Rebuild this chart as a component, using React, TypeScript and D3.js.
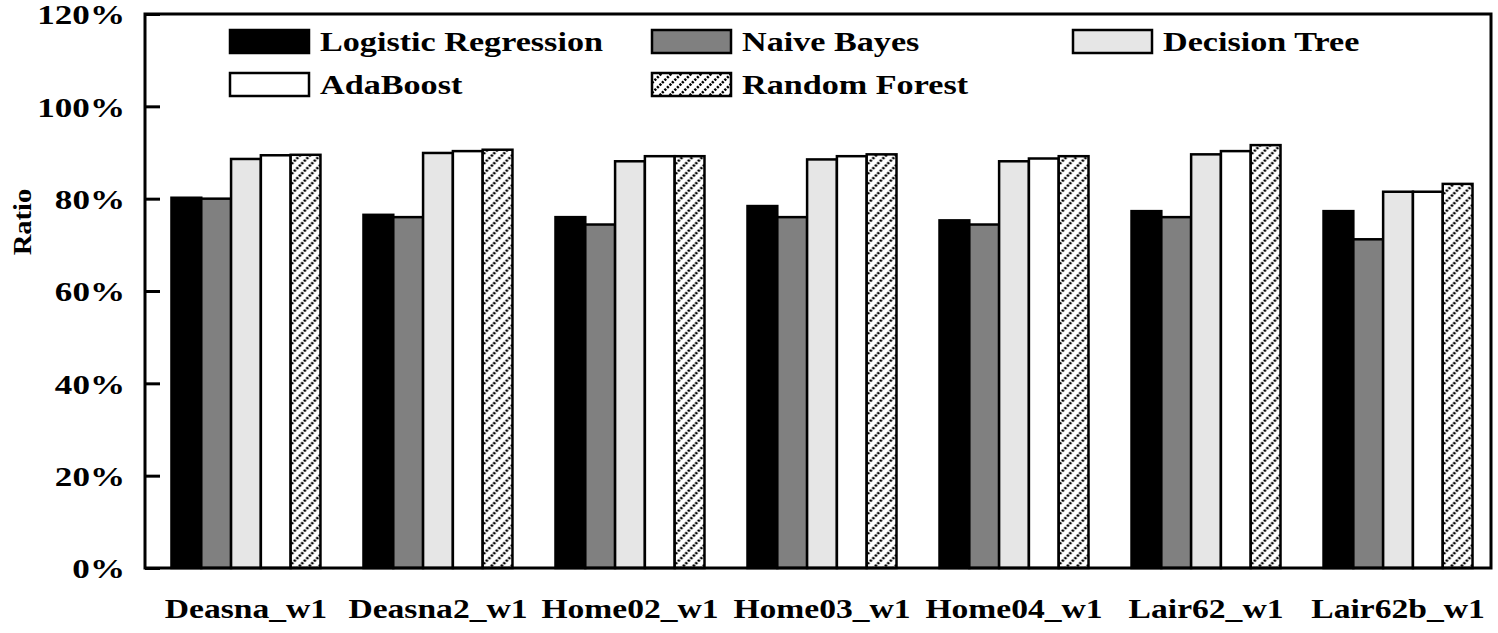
import { useRef, useEffect } from 'react';
import * as d3 from 'd3';

const categories = ['Deasna_w1', 'Deasna2_w1', 'Home02_w1', 'Home03_w1', 'Home04_w1', 'Lair62_w1', 'Lair62b_w1'];
const seriesNames = ['Logistic Regression', 'Naive Bayes', 'Decision Tree', 'AdaBoost', 'Random Forest'];

const logisticRegression = [80.2, 76.5, 76.0, 78.4, 75.3, 77.3, 77.3];
const naiveBayes = [80.0, 76.0, 74.4, 76.0, 74.4, 76.0, 71.2];
const decisionTree = [88.6, 89.9, 88.1, 88.5, 88.1, 89.6, 81.5];
const adaBoost = [89.4, 90.3, 89.2, 89.2, 88.7, 90.3, 81.5];
const randomForest = [89.5, 90.6, 89.2, 89.6, 89.2, 91.6, 83.2];

const yTicks = [0, 20, 40, 60, 80, 100, 120];

const FILLS = ['#000000', '#808080', '#e6e6e6', '#ffffff', 'url(#hatch)'];

const WIDTH = 1498;
const HEIGHT = 633;
const MARGIN = { top: 14, right: 7, bottom: 65, left: 145 };
const FONT = '"Liberation Serif", "Times New Roman", serif';

// the source's type is set wider than Liberation Serif: scale glyphs horizontally
function stretchText(sel: d3.Selection<any, any, any, any>, factor: number) {
  sel.each(function () {
    const el = this as SVGTextElement;
    const x = +(el.getAttribute('x') || 0);
    const y = +(el.getAttribute('y') || 0);
    const prev = el.getAttribute('transform') || '';
    el.setAttribute('x', '0');
    el.setAttribute('y', '0');
    el.setAttribute('transform', `${prev} translate(${x},${y}) scale(${factor},1)`);
  });
}

export default function App() {
  const svgRef = useRef<SVGSVGElement>(null);

  useEffect(() => {
    if (!svgRef.current) return;
    const svg = d3.select(svgRef.current);
    svg.selectAll('*').remove();

    const innerW = WIDTH - MARGIN.left - MARGIN.right;
    const innerH = HEIGHT - MARGIN.top - MARGIN.bottom;

    // hatch pattern for Random Forest
    const defs = svg.append('defs');
    const pat = defs
      .append('pattern')
      .attr('id', 'hatch')
      .attr('patternUnits', 'userSpaceOnUse')
      .attr('width', 10)
      .attr('height', 10);
    pat.append('rect').attr('width', 10).attr('height', 10).attr('fill', '#fff');
    pat
      .append('path')
      .attr('d', 'M-2.5,2.5 L2.5,-2.5 M0,10 L10,0 M7.5,12.5 L12.5,7.5')
      .attr('stroke', '#000')
      .attr('stroke-width', 2.6)
      .attr('stroke-dasharray', '2.2,1.4');

    const g = svg.append('g').attr('transform', `translate(${MARGIN.left},${MARGIN.top})`);

    const values = [logisticRegression, naiveBayes, decisionTree, adaBoost, randomForest];

    const x0 = d3
      .scaleBand<string>()
      .domain(categories)
      .range([4, innerW + 4])
      .paddingInner(0.224)
      .paddingOuter(0.117);
    const x1 = d3.scaleBand<number>().domain(d3.range(seriesNames.length)).range([0, x0.bandwidth()]);
    const y = d3.scaleLinear().domain([0, 120]).range([innerH, 0]);

    // ── Bars ──────────────────────────────────────────────────────────────
    categories.forEach((cat, ci) => {
      const grp = g.append('g').attr('transform', `translate(${x0(cat)},0)`);
      values.forEach((vals, si) => {
        grp
          .append('rect')
          .attr('x', x1(si)!)
          .attr('y', y(vals[ci]))
          .attr('width', x1.bandwidth())
          .attr('height', innerH - y(vals[ci]))
          .attr('fill', FILLS[si])
          .attr('stroke', '#000')
          .attr('stroke-width', 2.5);
      });
    });

    // ── Frame ─────────────────────────────────────────────────────────────
    g.append('rect')
      .attr('width', innerW)
      .attr('height', innerH)
      .attr('fill', 'none')
      .attr('stroke', '#000')
      .attr('stroke-width', 3);

    // ── Y axis (inward ticks) ────────────────────────────────────────────
    const yAxis = g.append('g').call(
      d3
        .axisLeft(y)
        .tickValues(yTicks)
        .tickSize(-15)
        .tickPadding(20)
        .tickFormat((d) => `${d}%`),
    );
    yAxis.select('.domain').remove();
    yAxis.selectAll('line').attr('stroke', '#000').attr('stroke-width', 3);
    const yLabels = yAxis
      .selectAll('text')
      .attr('font-family', FONT)
      .attr('font-weight', 'bold')
      .attr('font-size', '27px')
      .attr('dy', '0.36em')
      .attr('fill', '#000');
    stretchText(yLabels, 1.3);

    // Y label
    const yTitle = g
      .append('text')
      .attr('transform', 'rotate(-90)')
      .attr('x', -208)
      .attr('y', -MARGIN.left + 31)
      .attr('text-anchor', 'middle')
      .attr('font-family', FONT)
      .attr('font-weight', 'bold')
      .attr('font-size', '26px')
      .text('Ratio');
    stretchText(yTitle, 1.1);

    // ── X labels ─────────────────────────────────────────────────────────
    const xLabels = g
      .append('g')
      .selectAll('text')
      .data(categories)
      .join('text')
      .attr('x', (d) => x0(d)! + x0.bandwidth() / 2)
      .attr('y', innerH + 50)
      .attr('text-anchor', 'middle')
      .attr('font-family', FONT)
      .attr('font-weight', 'bold')
      .attr('font-size', '28px')
      .text((d) => d);
    stretchText(xLabels, 1.2);

    // ── Legend ───────────────────────────────────────────────────────────
    const legendX = [230, 652, 1073];
    const legendY = [30, 73];
    seriesNames.forEach((name, i) => {
      const col = i % 3;
      const row = Math.floor(i / 3);
      const lg = svg.append('g').attr('transform', `translate(${legendX[col]},${legendY[row]})`);
      lg.append('rect')
        .attr('width', 79)
        .attr('height', 23)
        .attr('fill', FILLS[i])
        .attr('stroke', '#000')
        .attr('stroke-width', 2.5);
      const t = lg
        .append('text')
        .attr('x', 90)
        .attr('y', 21)
        .attr('font-family', FONT)
        .attr('font-weight', 'bold')
        .attr('font-size', '28px')
        .text(name);
      stretchText(t, 1.22);
    });
  }, []);

  return (
    <div style={{ position: 'absolute', left: 0, top: 0, background: '#fff' }}>
      <svg ref={svgRef} width={WIDTH} height={HEIGHT} style={{ display: 'block' }} />
    </div>
  );
}
